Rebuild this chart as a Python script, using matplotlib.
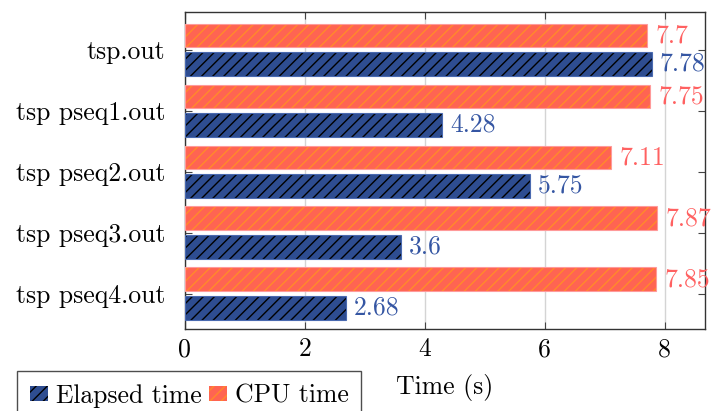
import matplotlib
matplotlib.use("Agg")
import matplotlib.pyplot as plt
import matplotlib.patches as mpatches
import numpy as np

plt.rcParams['font.family'] = 'cmr10'
plt.rcParams['axes.formatter.use_mathtext'] = True
plt.rcParams['mathtext.fontset'] = 'cm'
plt.rcParams['hatch.linewidth'] = 1.0

programs = ['tsp.out', 'tsp pseq1.out', 'tsp pseq2.out', 'tsp pseq3.out', 'tsp pseq4.out']
elapsed = [7.78, 4.28, 5.75, 3.6, 2.68]
cpu = [7.7, 7.75, 7.11, 7.87, 7.85]
xticks = [0, 2, 4, 6, 8]

blue_fill = '#2e4d91'
blue_text = '#3556a3'
red_fill = '#ff6452'
red_hatch = '#ff8a2a'
red_edge = '#ff9a9a'
red_text = '#ff6161'

fig = plt.figure(figsize=(7.11, 4.11), dpi=100)
ax = fig.add_axes([0.260, 0.1995, 0.7315, 0.7713])

y = np.arange(len(programs))
h = 0.39
off = 0.235

# CPU bars (top of each pair)
ax.barh(y - off, cpu, height=h, color=red_fill, hatch='///', edgecolor=red_hatch, linewidth=0, zorder=3)
ax.barh(y - off, cpu, height=h, fill=False, edgecolor=red_edge, linewidth=0.8, zorder=4)
# Elapsed bars (bottom of each pair)
ax.barh(y + off, elapsed, height=h, color=blue_fill, hatch='///', edgecolor='black', linewidth=0, zorder=3)
ax.barh(y + off, elapsed, height=h, fill=False, edgecolor='#4a6ab0', linewidth=0.8, zorder=4)

for yi, v in zip(y, cpu):
    ax.annotate('%g' % v, (v, yi - off), xytext=(6, 0), textcoords='offset points',
                va='center', ha='left', color=red_text, fontsize=18.5, annotation_clip=False)
for yi, v in zip(y, elapsed):
    ax.annotate('%g' % v, (v, yi + off), xytext=(6, 0), textcoords='offset points',
                va='center', ha='left', color=blue_text, fontsize=18.5, annotation_clip=False)

ax.set_xlim(0, 8.67)
ax.set_ylim(4.58, -0.62)
ax.set_yticks(y)
ax.set_yticklabels(programs, fontsize=18.5)
ax.set_xticks(xticks)
ax.set_xticklabels([str(t) for t in xticks], fontsize=18.5)
ax.tick_params(direction='in', length=5, width=0.8, top=True, right=True, color='#444444')
ax.tick_params(axis='y', pad=14)
ax.tick_params(axis='x', pad=6)
ax.grid(axis='x', color='#d4d4d4', linewidth=1.0, zorder=0)
ax.set_axisbelow(True)
for s in ax.spines.values():
    s.set_color('#333333')
    s.set_linewidth(1.0)

ax.set_xlabel('Time (s)', fontsize=18.5, labelpad=9)

handles = [mpatches.Patch(facecolor=blue_fill, hatch='///', edgecolor='black', linewidth=0),
           mpatches.Patch(facecolor=red_fill, hatch='///', edgecolor=red_hatch, linewidth=0)]
leg = fig.legend(handles, ['Elapsed time', 'CPU time'], loc='upper left',
                 bbox_to_anchor=(0.024, 0.097), ncol=2, fontsize=18.5, frameon=True,
                 fancybox=False, handlelength=0.7, handleheight=0.5, handletextpad=0.3,
                 columnspacing=0.3, borderpad=0.5, borderaxespad=0)
leg.get_frame().set_edgecolor('#222222')
leg.get_frame().set_linewidth(1.0)

fig.savefig('out.png', dpi=100)
